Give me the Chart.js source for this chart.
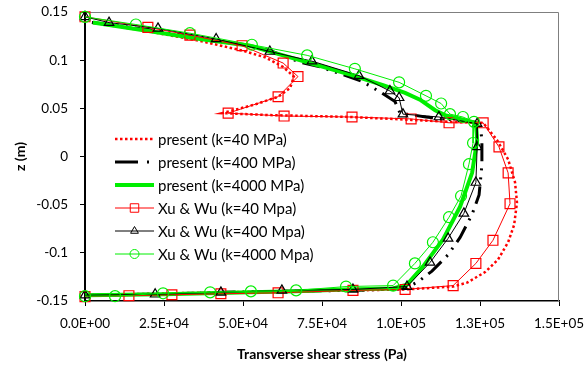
<!DOCTYPE html>
<html>
<head>
<meta charset="utf-8">
<script src="https://cdn.jsdelivr.net/npm/chart.js@4.4.0/dist/chart.umd.min.js"></script>
<style>
  html, body { margin: 0; padding: 0; background: #fff; }
  #wrap { width: 587px; height: 372px; }
</style>
</head>
<body>
<div id="wrap"><canvas id="chart" width="587" height="372"></canvas></div>
<script>
// ----- Data (x: shear stress in Pa, z: position in m) -----
const xTickLabels = ['0.0E+00', '2.5E+04', '5.0E+04', '7.5E+04', '1.0E+05', '1.3E+05', '1.5E+05'];
const zTickLabels = ['-0.15', '-0.1', '-0.05', '0', '0.05', '0.1', '0.15'];

const seriesNames = [
    'present (k=40 MPa)', 'present (k=400 MPa)', 'present (k=4000 MPa)',
    'Xu & Wu (k=40 Mpa)', 'Xu & Wu (k=400 Mpa)', 'Xu & Wu (k=4000 Mpa)'
];

const presentK40X = [2200, 19900, 36400, 49700, 57000, 62700, 66100, 64900, 61100, 53800, 43400, 58500, 84500, 103200, 115200, 126000, 130400, 133900, 136100, 136700, 135800, 133900, 130700, 126600, 120900, 116500, 101300, 84800, 61100, 43000, 27500, 13900, 0];
const presentK40Z = [0.139, 0.130, 0.120, 0.110, 0.103, 0.093, 0.083, 0.071, 0.062, 0.054, 0.045, 0.043, 0.041, 0.038, 0.036, 0.035, 0.017, -0.003, -0.027, -0.048, -0.071, -0.089, -0.107, -0.120, -0.131, -0.135, -0.138, -0.139, -0.140, -0.141, -0.142, -0.143, -0.144];

const presentK400X = [2200, 20600, 36400, 49700, 58500, 68000, 74400, 80700, 87700, 93400, 98100, 99700, 107900, 118700, 125000, 125600, 125600, 124700, 122500, 118700, 114900, 109800, 105400, 101300, 84800, 62300, 43000, 22200, 0];
const presentK400Z = [0.139, 0.1315, 0.123, 0.116, 0.110, 0.098, 0.093, 0.086, 0.078, 0.067, 0.057, 0.045, 0.041, 0.037, 0.035, 0.017, -0.009, -0.040, -0.060, -0.084, -0.102, -0.119, -0.130, -0.137, -0.139, -0.140, -0.141, -0.143, -0.144];

const presentK4000X = [2500, 20600, 36400, 52200, 62700, 73400, 83900, 94300, 101300, 106000, 110800, 113900, 118700, 123700, 124100, 122500, 118700, 113300, 107000, 101900, 97500, 82600, 66800, 52500, 24700, 0];
const presentK4000Z = [0.139, 0.130, 0.122, 0.115, 0.105, 0.095, 0.085, 0.074, 0.066, 0.059, 0.048, 0.043, 0.039, 0.035, 0.017, -0.017, -0.052, -0.086, -0.114, -0.133, -0.137, -0.138, -0.140, -0.141, -0.143, -0.144];

const xuK40X = [0, 19900, 33200, 49700, 62700, 67400, 61100, 45300, 63000, 84500, 103200, 115200, 126000, 131000, 133900, 134500, 129100, 123700, 116500, 101300, 84800, 61100, 43000, 27500, 13900, 0];
const xuK40Z = [0.145, 0.134, 0.126, 0.115, 0.097, 0.083, 0.062, 0.045, 0.042, 0.041, 0.039, 0.035, 0.035, 0.010, -0.017, -0.049, -0.087, -0.111, -0.134, -0.138, -0.139, -0.1415, -0.1425, -0.1435, -0.1445, -0.1455];

const xuK400X = [0, 7600, 23100, 41500, 58500, 71800, 86700, 96500, 99400, 100600, 112000, 124100, 124100, 123700, 119900, 114900, 109200, 101900, 84800, 62300, 43000, 22200, 0];
const xuK400Z = [0.145, 0.139, 0.133, 0.122, 0.109, 0.099, 0.084, 0.068, 0.061, 0.044, 0.041, 0.034, 0.010, -0.027, -0.059, -0.085, -0.110, -0.135, -0.138, -0.139, -0.141, -0.143, -0.144];

const xuK4000X = [0, 16100, 33200, 52800, 70300, 85400, 99400, 107900, 112700, 115500, 119600, 123100, 122800, 121500, 119000, 115200, 110100, 104400, 97500, 82600, 66800, 52500, 39600, 24700, 9500, 0];
const xuK4000Z = [0.145, 0.137, 0.128, 0.116, 0.105, 0.091, 0.077, 0.063, 0.055, 0.044, 0.041, 0.036, 0.014, -0.008, -0.041, -0.063, -0.089, -0.111, -0.134, -0.135, -0.139, -0.140, -0.141, -0.142, -0.145, -0.145];

// ----- Helpers -----
function toPoints(xs, zs) {
    return xs.map(function (x, i) { return { x: x, y: zs[i] }; });
}

const RED = '#ff0000';
const GREEN = '#00ee00';
const NONE = 'rgba(0,0,0,0)';
const FONT = 'Lato, "Open Sans", sans-serif';

// legend drawn inside the plot, like the Excel original
const legendLayout = { x1: 115, x2: 154, textX: 158, rows: [139, 162, 185, 208, 231, 254] };
const legendDash = [null, [23, 9, 2, 9], null, null, null, null];

const insideLegend = {
    id: 'insideLegend',
    afterDraw: function (chart) {
        const ctx = chart.ctx;
        const sets = chart.data.datasets;
        ctx.save();
        sets.forEach(function (ds, i) {
            const y = legendLayout.rows[i];
            ctx.beginPath();
            ctx.strokeStyle = ds.borderColor;
            ctx.lineWidth = ds.borderWidth;
            ctx.setLineDash(legendDash[i] || ds.borderDash || []);
            ctx.moveTo(legendLayout.x1, y);
            ctx.lineTo(legendLayout.x2, y);
            ctx.stroke();
            ctx.setLineDash([]);
            if (ds.pointRadius > 0) {
                ctx.strokeStyle = ds.pointBorderColor;
                ctx.fillStyle = NONE;
                Chart.helpers.drawPoint(ctx, {
                    pointStyle: ds.pointStyle,
                    radius: ds.pointRadius - 1,
                    rotation: 0,
                    borderWidth: ds.pointBorderWidth
                }, (legendLayout.x1 + legendLayout.x2) / 2, y);
            }
            ctx.fillStyle = '#000';
            ctx.font = '15px ' + FONT;
            ctx.textBaseline = 'middle';
            ctx.textAlign = 'left';
            ctx.fillText(seriesNames[i], legendLayout.textX, y + 1);
        });
        ctx.restore();
    }
};

// gray frame on top/right of the plot area
const plotFrame = {
    id: 'plotFrame',
    beforeDatasetsDraw: function (chart) {
        const a = chart.chartArea;
        const ctx = chart.ctx;
        ctx.save();
        ctx.strokeStyle = '#7f7f7f';
        ctx.lineWidth = 1;
        ctx.beginPath();
        ctx.moveTo(a.left, a.top + 0.5);
        ctx.lineTo(a.right - 0.5, a.top + 0.5);
        ctx.lineTo(a.right - 0.5, a.bottom);
        ctx.stroke();
        ctx.restore();
    }
};

const datasets = [
    {
        label: seriesNames[0], data: toPoints(presentK40X, presentK40Z),
        borderColor: RED, borderWidth: 2.5, borderDash: [2.5, 2.5], pointRadius: 0, order: 6
    },
    {
        label: seriesNames[1], data: toPoints(presentK400X, presentK400Z),
        borderColor: '#000', borderWidth: 3, borderDash: [18, 7, 2, 7, 2, 7], pointRadius: 0, order: 5
    },
    {
        label: seriesNames[2], data: toPoints(presentK4000X, presentK4000Z),
        borderColor: GREEN, borderWidth: 4, pointRadius: 0, order: 4
    },
    {
        label: seriesNames[3], data: toPoints(xuK40X, xuK40Z),
        borderColor: RED, borderWidth: 1, pointStyle: 'rect', pointRadius: 7,
        pointBorderColor: RED, pointBackgroundColor: NONE, pointBorderWidth: 1.2, order: 3
    },
    {
        label: seriesNames[4], data: toPoints(xuK400X, xuK400Z),
        borderColor: '#000', borderWidth: 1, pointStyle: 'triangle', pointRadius: 5.5,
        pointBorderColor: '#000', pointBackgroundColor: NONE, pointBorderWidth: 1.2, order: 2
    },
    {
        label: seriesNames[5], data: toPoints(xuK4000X, xuK4000Z),
        borderColor: GREEN, borderWidth: 1, pointStyle: 'circle', pointRadius: 5.5,
        pointBorderColor: GREEN, pointBackgroundColor: NONE, pointBorderWidth: 1.2, order: 1
    }
];
datasets.forEach(function (ds) {
    ds.showLine = true;
    ds.fill = false;
    ds.tension = 0;
    ds.clip = false;
    ds.pointHoverRadius = ds.pointRadius;
});

new Chart(document.getElementById('chart'), {
    type: 'scatter',
    data: { datasets: datasets },
    plugins: [plotFrame, insideLegend],
    options: {
        responsive: false,
        animation: false,
        events: [],
        layout: { padding: { left: 0, right: 28, top: 12, bottom: 0 } },
        plugins: { legend: { display: false }, tooltip: { enabled: false } },
        scales: {
            x: {
                type: 'linear', min: 0, max: 150000,
                afterFit: function (s) {
                    s.height = 71;
                    s.paddingLeft = 0;
                    s.paddingRight = 0;
                },
                ticks: {
                    stepSize: 25000, padding: 10, color: '#000', maxRotation: 0,
                    font: { family: FONT, size: 13.5 },
                    callback: function (v, i) { return xTickLabels[i]; }
                },
                grid: { drawOnChartArea: false, drawTicks: true, tickLength: 5, color: '#000', lineWidth: 1 },
                border: { display: true, color: '#000', width: 1.5 },
                title: {
                    display: true, text: 'Transverse shear stress (Pa)', color: '#000',
                    font: { family: FONT, size: 14, weight: 'bold' }, padding: { top: 0, bottom: 9 }
                }
            },
            y: {
                type: 'linear', min: -0.15, max: 0.15,
                afterFit: function (s) {
                    s.width = 85;
                    s.paddingTop = 0;
                    s.paddingBottom = 0;
                },
                ticks: {
                    stepSize: 0.05, padding: 12, color: '#000',
                    font: { family: FONT, size: 13.5 },
                    callback: function (v, i) { return zTickLabels[i]; }
                },
                grid: { drawOnChartArea: false, drawTicks: true, tickLength: 5, color: '#000', lineWidth: 1 },
                border: { display: true, color: '#000', width: 2 },
                title: {
                    display: true, text: 'z (m)', color: '#000',
                    font: { family: FONT, size: 14, weight: 'bold' }, padding: { top: 12, bottom: 0 }
                }
            }
        }
    }
});
</script>
</body>
</html>
